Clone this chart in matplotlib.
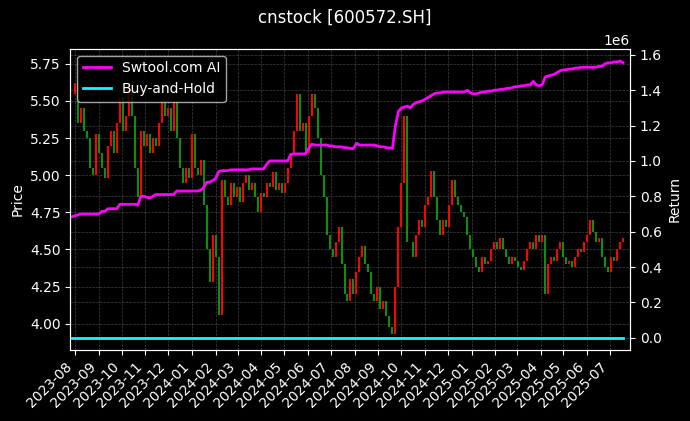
import numpy as np
import pandas as pd
import matplotlib.pyplot as plt
import matplotlib.dates as mdates

# closing prices (one point about every 3 trading days)
price = [5.55, 5.62, 5.35, 5.45, 5.30, 5.25, 5.05, 5.00, 5.28, 5.15,
         5.05, 4.98, 5.20, 5.30, 5.15, 5.35, 5.52, 5.30, 5.40, 5.62,
         5.40, 5.05, 4.85, 5.30, 5.20, 5.28, 5.15, 5.25, 5.20, 5.35,
         5.50, 5.40, 5.45, 5.30, 5.50, 5.25, 5.05, 4.95, 5.05, 4.98,
         5.28, 5.05, 5.00, 5.10, 4.80, 4.50, 4.28, 4.60, 4.45, 4.06,
         4.97, 4.85, 4.80, 4.95, 4.85, 4.92, 4.82, 4.95, 5.00, 4.90,
         4.95, 4.85, 4.75, 4.88, 4.85, 4.95, 4.92, 5.02, 4.90, 4.95,
         4.88, 4.95, 5.05, 5.15, 5.30, 5.55, 5.30, 5.35, 5.15, 5.40,
         5.55, 5.45, 5.25, 5.00, 4.85, 4.60, 4.50, 4.45, 4.55, 4.65,
         4.40, 4.20, 4.15, 4.30, 4.20, 4.35, 4.45, 4.52, 4.40, 4.35,
         4.20, 4.15, 4.25, 4.10, 4.15, 4.05, 3.98, 3.93, 4.25, 4.65,
         4.95, 5.40, 4.55, 4.55, 4.45, 4.60, 4.70, 4.65, 4.80, 4.85,
         5.03, 4.85, 4.70, 4.60, 4.70, 4.65, 4.80, 4.97, 4.85, 4.80,
         4.75, 4.72, 4.60, 4.50, 4.45, 4.38, 4.35, 4.45, 4.40, 4.42,
         4.50, 4.55, 4.50, 4.58, 4.50, 4.45, 4.40, 4.45, 4.42, 4.38,
         4.36, 4.42, 4.50, 4.55, 4.50, 4.60, 4.55, 4.60, 4.20, 4.40,
         4.45, 4.42, 4.50, 4.55, 4.45, 4.40, 4.42, 4.38, 4.45, 4.50,
         4.48, 4.55, 4.60, 4.70, 4.62, 4.55, 4.58, 4.45, 4.38, 4.35,
         4.45, 4.42, 4.50, 4.55, 4.58]

# strategy return (in units of 1e6)
strategy = [0.685, 0.69, 0.695, 0.70, 0.70, 0.70, 0.70, 0.70, 0.70, 0.70,
            0.715, 0.715, 0.73, 0.73, 0.73, 0.73, 0.755, 0.755, 0.755, 0.755,
            0.755, 0.755, 0.75, 0.80, 0.80, 0.795, 0.79, 0.80, 0.81, 0.81,
            0.81, 0.81, 0.81, 0.81, 0.81, 0.83, 0.83, 0.83, 0.83, 0.83,
            0.83, 0.83, 0.83, 0.835, 0.85, 0.88, 0.88, 0.89, 0.90, 0.94,
            0.945, 0.945, 0.945, 0.95, 0.95, 0.95, 0.95, 0.95, 0.95, 0.95,
            0.955, 0.955, 0.955, 0.955, 0.955, 0.98, 1.0, 1.0, 1.0, 1.0,
            1.0, 1.0, 1.0, 1.035, 1.04, 1.04, 1.04, 1.04, 1.04, 1.07,
            1.095, 1.09, 1.09, 1.09, 1.09, 1.09, 1.085, 1.085, 1.08, 1.08,
            1.08, 1.075, 1.075, 1.07, 1.07, 1.10, 1.09, 1.09, 1.09, 1.09,
            1.09, 1.09, 1.085, 1.08, 1.08, 1.075, 1.075, 1.07, 1.20, 1.28,
            1.30, 1.305, 1.31, 1.30, 1.32, 1.33, 1.335, 1.34, 1.35, 1.36,
            1.37, 1.38, 1.385, 1.385, 1.39, 1.39, 1.39, 1.39, 1.39, 1.39,
            1.39, 1.39, 1.40, 1.385, 1.38, 1.38, 1.385, 1.39, 1.39, 1.395,
            1.395, 1.40, 1.40, 1.405, 1.405, 1.41, 1.41, 1.415, 1.42, 1.42,
            1.425, 1.425, 1.43, 1.43, 1.45, 1.43, 1.425, 1.43, 1.475, 1.48,
            1.485, 1.49, 1.50, 1.51, 1.515, 1.515, 1.52, 1.52, 1.525, 1.525,
            1.53, 1.53, 1.53, 1.53, 1.53, 1.53, 1.535, 1.535, 1.55, 1.555,
            1.555, 1.56, 1.56, 1.565, 1.555]

buy_hold = [0.0] * len(price)

dates = pd.date_range('2023-07-28', '2025-07-18', periods=len(price))

plt.style.use('dark_background')
fig = plt.figure(figsize=(6.9, 4.21), dpi=100)
ax1 = fig.add_axes([0.102, 0.169, 0.811, 0.715])

opens = [price[0]] + price[:-1]
colors = ['red' if c >= o else '#0c900c' for o, c in zip(opens, price)]
ax1.vlines(dates, opens, price, colors=colors, linewidth=1.5)
ax1.set_ylabel('Price')
ax1.set_ylim(3.824, 5.851)
ax1.set_xlim(pd.Timestamp('2023-07-26'), pd.Timestamp('2025-07-27'))
ax1.xaxis.set_major_locator(mdates.MonthLocator())
ax1.xaxis.set_major_formatter(mdates.DateFormatter('%Y-%m'))
plt.setp(ax1.get_xticklabels(), rotation=45, ha='right')
ax1.grid(True, color='gray', linestyle='--', linewidth=0.5, alpha=0.5)

ax2 = ax1.twinx()
ax2.plot(dates, np.array(strategy) * 1e6, color='magenta', linewidth=2, label='Swtool.com AI')
ax2.plot(dates, buy_hold, color='cyan', linewidth=2, label='Buy-and-Hold')
ax2.set_ylim(-0.068e6, 1.634e6)
ax2.set_ylabel('Return')
ax2.grid(True, axis='y', color='gray', linestyle='--', linewidth=0.5, alpha=0.5)
ax2.legend(loc='upper left')

fig.suptitle('cnstock [600572.SH]')
fig.savefig('out.png')
